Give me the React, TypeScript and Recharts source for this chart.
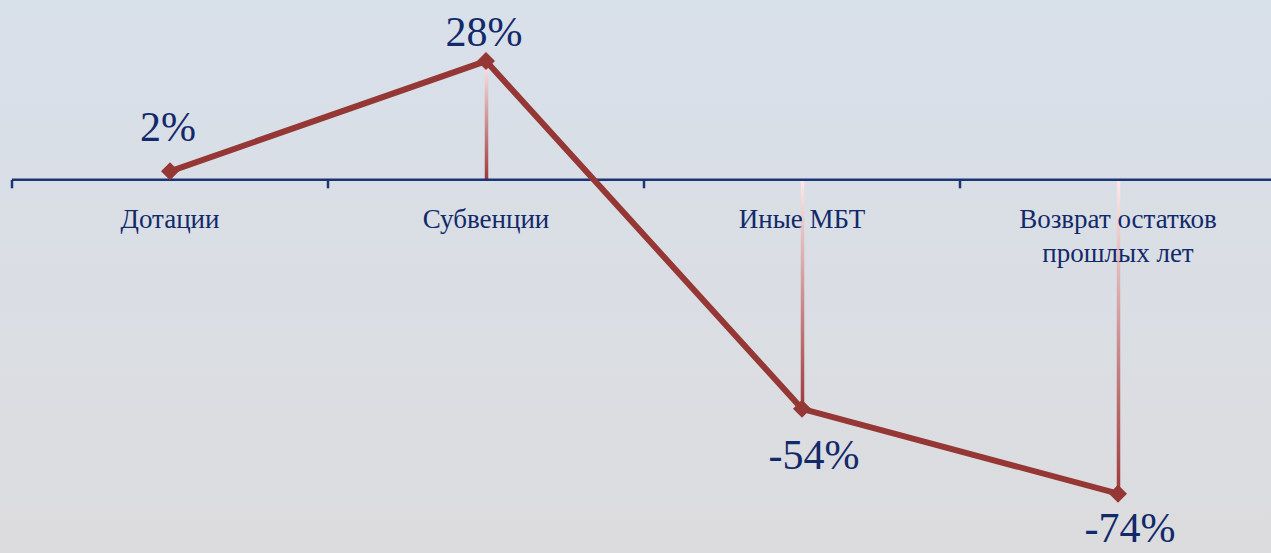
import React from 'react';
import { ComposedChart, Line, Bar, XAxis, YAxis, ReferenceLine, LabelList } from 'recharts';

// categories (split into lines as in the source) and percentage change
const categories = [['Дотации'], ['Субвенции'], ['Иные МБТ'], ['Возврат остатков', 'прошлых лет']];
const changes = [2, 28, -54, -74];
const boundaries = [0, 1, 2, 3, 4];

const chartData = categories.map((lines, i) => ({
    x: i + 0.5,
    name: lines.join('\n'),
    value: changes[i],
    zero: 0,
}));

const LINE_COLOR = '#953735';
const TEXT_COLOR = '#12296a';
const AXIS_COLOR = '#1c3575';
const FONT = '"Book Antiqua", "Palatino Linotype", "Liberation Serif", serif';

const Diamond = (props: any) => {
    const { cx, cy } = props;
    if (cx == null || cy == null) return null;
    const r = 9;
    return <polygon points={`${cx},${cy - r} ${cx + r},${cy} ${cx},${cy + r} ${cx - r},${cy}`} fill={LINE_COLOR} />;
};

const DropLine = (props: any) => {
    const { x, y, width, height } = props;
    const top = Math.min(y, y + height);
    const h = Math.abs(height);
    return <rect x={x + width / 2 - 1.75} y={top} width={3.5} height={h} fill="url(#dropGrad)" />;
};

const ValueLabel = (props: any) => {
    const { x, y, value } = props;
    const pos = value >= 0;
    // keep labels inside the picture at the top and bottom edges
    const baseline = pos ? Math.max(y - 30, 46) : Math.min(y + 60, 542);
    return (
        <text x={pos ? x - 2 : x + 12} y={baseline} textAnchor="middle" fill={TEXT_COLOR} fontSize={42} fontFamily={FONT}>
            {`${value}%`}
        </text>
    );
};

const CategoryLabel = (props: any) => {
    const { x, y, value } = props;
    const lines = String(value).split('\n');
    return (
        <text x={x} y={y + 48} textAnchor="middle" fill={TEXT_COLOR} fontSize={27} fontFamily={FONT}>
            {lines.map((l, i) => (
                <tspan key={i} x={x} dy={i === 0 ? 0 : 34}>{l}</tspan>
            ))}
        </text>
    );
};

export default function App() {
    return (
        <div
            style={{
                position: 'fixed',
                left: 0,
                top: 0,
                width: 1271,
                height: 553,
                overflow: 'hidden',
                background: 'linear-gradient(180deg, #d8e0ea 0%, #dcdcde 100%)',
            }}
        >
            <ComposedChart width={1290} height={553} data={chartData} margin={{ top: 0, right: 14, bottom: 0, left: 12 }}>
                <defs>
                    <linearGradient id="dropGrad" x1="0" y1="0" x2="0" y2="1">
                        <stop offset="0%" stopColor="#fbeaea" />
                        <stop offset="100%" stopColor="#a0383a" />
                    </linearGradient>
                </defs>
                <XAxis type="number" dataKey="x" domain={[0, 4]} hide />
                <YAxis type="number" domain={[-88, 42.4]} hide allowDataOverflow />
                <ReferenceLine y={0} stroke={AXIS_COLOR} strokeWidth={2.5} />
                {boundaries.map(b => (
                    <ReferenceLine
                        key={b}
                        segment={[{ x: b, y: 0 }, { x: b, y: -2 }]}
                        stroke={AXIS_COLOR}
                        strokeWidth={2.5}
                        ifOverflow="visible"
                    />
                ))}
                <Line dataKey="zero" stroke="none" dot={false} activeDot={false} isAnimationActive={false}>
                    <LabelList dataKey="name" content={CategoryLabel} />
                </Line>
                <Line
                    type="linear"
                    dataKey="value"
                    stroke={LINE_COLOR}
                    strokeWidth={6}
                    dot={<Diamond />}
                    activeDot={false}
                    isAnimationActive={false}
                >
                    <LabelList dataKey="value" content={ValueLabel} />
                </Line>
                <Bar dataKey="value" barSize={3} shape={<DropLine />} isAnimationActive={false} />
            </ComposedChart>
        </div>
    );
}
